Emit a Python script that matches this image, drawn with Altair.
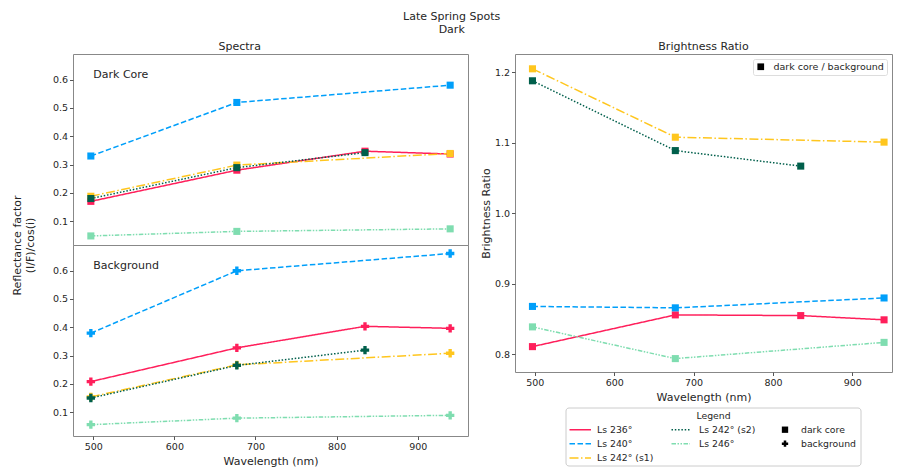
import altair as alt
import pandas as pd

FONT = "DejaVu Sans"
TXT = "#262626"

# ---------------- data ----------------
wavelengths = [497, 677, 835, 940]
series = ["Ls 236°", "Ls 240°", "Ls 242° (s1)", "Ls 242° (s2)", "Ls 246°"]
colors = ["#FF1F5B", "#009FFA", "#FFC61E", "#005F4B", "#7FDDB0"]
dashes = [[1, 0], [5.5, 2.5], [9, 2.5, 1.5, 2.5], [1.5, 1.8], [4.5, 1.5, 1.5, 1.5, 1.5, 1.5]]

core_236 = [0.170, 0.280, 0.347, 0.337]
core_240 = [0.330, 0.519, None, 0.580]
core_242s1 = [0.188, 0.298, None, 0.339]
core_242s2 = [0.180, 0.289, 0.342, None]
core_246 = [0.048, 0.064, None, 0.073]

bg_236 = [0.208, 0.327, 0.403, 0.396]
bg_240 = [0.379, 0.599, None, 0.660]
bg_242s1 = [0.154, 0.267, None, 0.308]
bg_242s2 = [0.150, 0.265, 0.319, None]
bg_246 = [0.056, 0.079, None, 0.089]

ratio_236 = [0.811, 0.856, 0.855, 0.849]
ratio_240 = [0.868, 0.866, None, 0.880]
ratio_242s1 = [1.205, 1.108, None, 1.101]
ratio_242s2 = [1.188, 1.089, 1.067, None]
ratio_246 = [0.839, 0.794, None, 0.817]

panel_labels = ["Dark Core", "Background"]
marker_kinds = ["dark core", "background"]
ratio_marker_label = "dark core / background"
x_ticks = [500, 600, 700, 800, 900]
y_ticks_left = [0.1, 0.2, 0.3, 0.4, 0.5, 0.6]
y_ticks_right = [0.8, 0.9, 1.0, 1.1, 1.2]


def long_df(values):
    rows = []
    for s, vals in zip(series, values):
        for w, v in zip(wavelengths, vals):
            if v is not None:
                rows.append({"series": s, "wl": w, "val": v})
    return pd.DataFrame(rows)


core_df = long_df([core_236, core_240, core_242s1, core_242s2, core_246])
bg_df = long_df([bg_236, bg_240, bg_242s1, bg_242s2, bg_246])
ratio_df = long_df([ratio_236, ratio_240, ratio_242s1, ratio_242s2, ratio_246])
ratio_df["mk"] = ratio_marker_label

color_scale = alt.Scale(domain=series, range=colors)
dash_scale = alt.Scale(domain=series, range=dashes)
xs_left = alt.Scale(domain=[475, 962], nice=False, zero=False)
ys_left = alt.Scale(domain=[0.016, 0.69], nice=False, zero=False)

color_enc = alt.Color("series:N", scale=color_scale, legend=None)
dash_enc = alt.StrokeDash("series:N", scale=dash_scale, legend=None)

LEFT_W, PANEL_H = 395, 191


def spectra_panel(df, shape, size, label, bottom):
    x_axis = alt.Axis(values=x_ticks, format="d", title="Wavelength (nm)") if bottom else None
    if bottom:
        y_axis = alt.Axis(values=y_ticks_left, format=".1f",
                          title=["Reflectance factor", "(I/F)/cos(i)"],
                          titleY=0, titlePadding=17)
    else:
        y_axis = alt.Axis(values=y_ticks_left, format=".1f", title=None)
    xenc = alt.X("wl:Q", scale=xs_left, axis=x_axis)
    yenc = alt.Y("val:Q", scale=ys_left, axis=y_axis)
    base = alt.Chart(df).encode(x=xenc, y=yenc, color=color_enc)
    lines = base.mark_line(strokeWidth=1.5).encode(strokeDash=dash_enc)
    pts = base.mark_point(shape=shape, filled=True, size=size, opacity=1)
    ann = alt.Chart(pd.DataFrame({"wl": [500], "val": [0.615], "t": [label]})).mark_text(
        align="left", baseline="middle", font=FONT, fontSize=11, color=TXT
    ).encode(x=xenc, y=yenc, text="t:N")
    return alt.layer(lines, pts, ann).properties(width=LEFT_W, height=PANEL_H)


top = spectra_panel(core_df, "square", 50, panel_labels[0], False)
bottom = spectra_panel(bg_df, "cross", 70, panel_labels[1], True)

left = alt.vconcat(top, bottom, spacing=0, bounds="flush",
                   title=alt.TitleParams("Spectra", anchor="middle", fontSize=11,
                                         font=FONT, fontWeight="normal", color=TXT, offset=2)
                   ).resolve_scale(x="independent", y="independent")

# ---------------- brightness ratio ----------------
RIGHT_W = 377
xs_right = alt.Scale(domain=[475, 950], nice=False, zero=False)
ys_right = alt.Scale(domain=[0.775, 1.226], nice=False, zero=False)
rbase = alt.Chart(ratio_df).encode(
    x=alt.X("wl:Q", scale=xs_right, axis=alt.Axis(values=x_ticks, format="d", title="Wavelength (nm)")),
    y=alt.Y("val:Q", scale=ys_right,
            axis=alt.Axis(values=y_ticks_right, format=".1f", title="Brightness Ratio", titlePadding=3)),
    color=color_enc,
)
rlines = rbase.mark_line(strokeWidth=1.5).encode(strokeDash=dash_enc)
rpts = rbase.mark_point(filled=True, size=50, opacity=1).encode(
    shape=alt.Shape("mk:N", scale=alt.Scale(domain=[ratio_marker_label], range=["square"]),
                    legend=alt.Legend(title=None, orient="top-right", offset=5,
                                      symbolFillColor="black", symbolStrokeColor="black",
                                      symbolStrokeWidth=0, symbolSize=45,
                                      strokeColor="#dddddd", padding=3, cornerRadius=2,
                                      labelFont=FONT, labelFontSize=9.5, labelColor=TXT,
                                      labelOffset=8))
)
ratio = alt.layer(rlines, rpts).properties(
    width=RIGHT_W, height=318,
    title=alt.TitleParams("Brightness Ratio", anchor="middle", fontSize=11, font=FONT,
                          fontWeight="normal", color=TXT, offset=2),
)

# ---------------- custom legend (box under the ratio panel) ----------------
LEG_H = 58
box_x0, box_x1 = 51, 346
line_x0 = [box_x0 + 3.5, box_x0 + 105.5]
line_x1 = [box_x0 + 25, box_x0 + 124]
label_x = [box_x0 + 31, box_x0 + 133]
row_y = [21.7, 35.7, 50]
marker_x, marker_label_x = box_x0 + 219, box_x0 + 235

leg_rows = []
for i, s in enumerate(series):
    col, row = divmod(i, 3)
    leg_rows.append({"series": s, "lx0": line_x0[col], "lx1": line_x1[col],
                     "lt": label_x[col], "ly": row_y[row]})
leg_df = pd.DataFrame(leg_rows)
mk_df = pd.DataFrame({"kind": marker_kinds, "lx0": [marker_x] * 2,
                      "lt": [marker_label_x] * 2, "ly": row_y[:2]})

lxs = alt.Scale(domain=[0, RIGHT_W], nice=False, zero=False)
lys = alt.Scale(domain=[0, LEG_H], nice=False, zero=False, reverse=True)

leg_box = alt.Chart(pd.DataFrame({"a": [0]})).mark_rect(
    fill="white", stroke="#cccccc", strokeWidth=1, cornerRadius=3
).encode(x=alt.value(box_x0), x2=alt.value(box_x1), y=alt.value(0), y2=alt.value(LEG_H))
leg_lines = alt.Chart(leg_df).mark_rule(strokeWidth=1.5).encode(
    x=alt.X("lx0:Q", scale=lxs, axis=None), x2="lx1:Q",
    y=alt.Y("ly:Q", scale=lys, axis=None), color=color_enc, strokeDash=dash_enc)
leg_text = alt.Chart(leg_df).mark_text(align="left", baseline="middle", font=FONT,
                                       fontSize=9.3, color=TXT).encode(
    x=alt.X("lt:Q", scale=lxs, axis=None), y=alt.Y("ly:Q", scale=lys, axis=None), text="series:N")
leg_mk = alt.Chart(mk_df).mark_point(filled=True, opacity=1, color="black", size=40).encode(
    x=alt.X("lx0:Q", scale=lxs, axis=None), y=alt.Y("ly:Q", scale=lys, axis=None),
    shape=alt.Shape("kind:N", scale=alt.Scale(domain=marker_kinds, range=["square", "cross"]), legend=None))
leg_mk_text = alt.Chart(mk_df).mark_text(align="left", baseline="middle", font=FONT,
                                         fontSize=9.3, color=TXT).encode(
    x=alt.X("lt:Q", scale=lxs, axis=None), y=alt.Y("ly:Q", scale=lys, axis=None), text="kind:N")
leg_title = alt.Chart(pd.DataFrame({"t": ["Legend"]})).mark_text(
    align="center", baseline="middle", font=FONT, fontSize=9.3, color=TXT
).encode(x=alt.value((box_x0 + box_x1) / 2), y=alt.value(7.5), text="t:N")

legend = alt.layer(leg_box, leg_lines, leg_text, leg_mk, leg_mk_text, leg_title).properties(
    width=RIGHT_W, height=LEG_H,
    view=alt.ViewBackground(stroke=None),
)

right = alt.vconcat(ratio, legend, spacing=36, bounds="flush").resolve_scale(
    x="independent", y="independent", shape="independent")

chart = alt.hconcat(left, right, spacing=10).resolve_scale(
    x="independent", y="independent", shape="independent"
).properties(
    title=alt.TitleParams(["Late Spring Spots", "Dark"], anchor="middle", fontSize=11,
                          font=FONT, fontWeight="normal", color=TXT, lineHeight=13, offset=6),
    padding={"left": 2, "top": 2, "right": 0, "bottom": 0},
).configure_axis(
    labelFont=FONT, labelFontSize=9.5, labelColor=TXT, titleFont=FONT, titleFontSize=11,
    titleFontWeight="normal", titleColor=TXT, tickColor="#555555", tickSize=3.5,
    domain=False, grid=False, labelPadding=2, labelOverlap=False,
).configure_view(stroke="#888888", strokeWidth=1)

chart.save("out.html", embed_options={"renderer": "svg", "actions": False})
